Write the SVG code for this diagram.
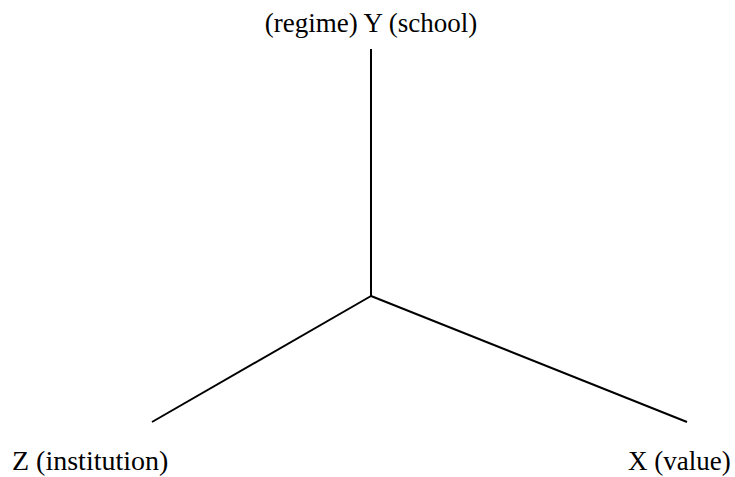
<svg xmlns="http://www.w3.org/2000/svg" width="735" height="477" viewBox="0 0 735 477">
<style>
.lbl{font-family:"Liberation Serif","Times New Roman",serif;font-size:27px;fill:#000}
.ax{stroke:#000;stroke-width:2;fill:none;stroke-linecap:butt}
</style>
<rect width="735" height="477" fill="#fff"/>
<g id="connectors">
<line class="ax" x1="371" y1="296" x2="371" y2="49"/>
<line class="ax" x1="371" y1="296" x2="152" y2="422"/>
<line class="ax" x1="371" y1="296" x2="687" y2="422"/>
</g>
<g id="Y"><text class="lbl" x="371" y="32" text-anchor="middle">(regime) Y (school)</text></g>
<g id="Z"><text class="lbl" x="12" y="470" style="font-size:28px">Z (institution)</text></g>
<g id="X"><text class="lbl" x="628" y="470">X (value)</text></g>
</svg>
